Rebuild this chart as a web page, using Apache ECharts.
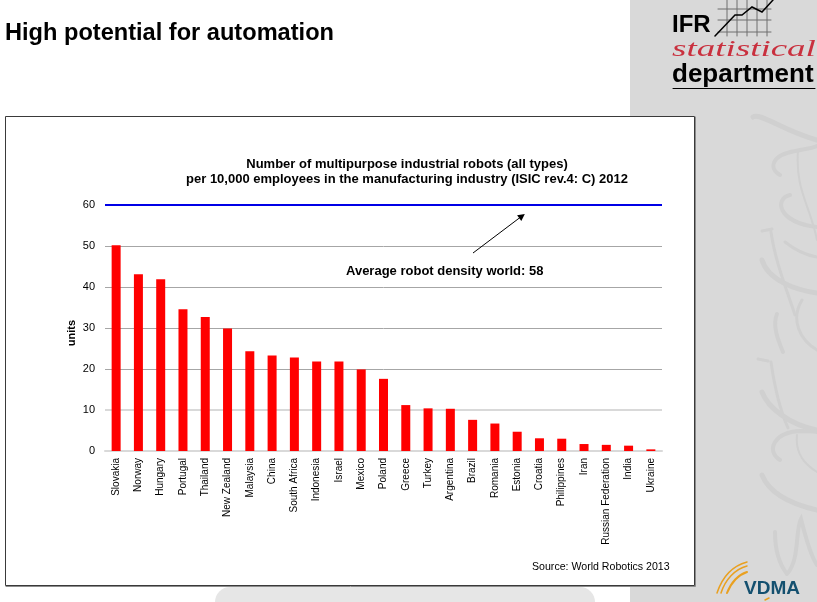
<!DOCTYPE html>
<html>
<head>
<meta charset="utf-8">
<title>High potential for automation</title>
<script src="https://cdn.jsdelivr.net/npm/echarts@6/dist/echarts.min.js"></script>
<style>
html, body { margin: 0; padding: 0; background: #fff; }
#chart { width: 817px; height: 602px; }
</style>
</head>
<body>
<div id="chart"></div>
<script>
var countries = ['Slovakia', 'Norway', 'Hungary', 'Portugal', 'Thailand', 'New Zealand', 'Malaysia', 'China',
    'South Africa', 'Indonesia', 'Israel', 'Mexico', 'Poland', 'Greece', 'Turkey', 'Argentina', 'Brazil',
    'Romania', 'Estonia', 'Croatia', 'Philippines', 'Iran', 'Russian Federation', 'India', 'Ukraine'];
var density = [50.2, 43.1, 41.9, 34.6, 32.7, 29.9, 24.3, 23.3, 22.8, 21.8, 21.8, 19.9, 17.6, 11.2, 10.4, 10.3,
    7.6, 6.7, 4.7, 3.1, 3.0, 1.7, 1.5, 1.3, 0.4];
var worldLine = 60; // blue line sits on the 60 gridline in the picture
var lightGridline = 10; // this gridline is paler and thicker than the others

var pageTitle = 'High potential for automation';
var chartTitle = 'Number of multipurpose industrial robots (all types)\nper 10,000 employees in the manufacturing industry (ISIC rev.4: C) 2012';
var noteText = 'Average robot density world: 58';
var sourceText = 'Source: World Robotics 2013';

var font = '"Liberation Sans", Arial, sans-serif';
var scribble = '#d0d0d0';
var pathCount = 0;

// graphic has no plain svg path type, so register each one as its own shape
function stroke(path, color, width) {
    var name = 'deco' + (pathCount++);
    echarts.graphic.registerShape(name, echarts.graphic.extendPath(path, {}));
    return {
        type: name,
        style: { fill: null, stroke: color, lineWidth: width, lineCap: 'round' }
    };
}

function label(x, y, text, size, weight, color) {
    return {
        type: 'text',
        x: x,
        y: y,
        style: {
            text: text,
            fill: color,
            font: weight + ' ' + size + 'px ' + font,
            verticalAlign: 'middle'
        }
    };
}

// side panel, slide frame, logos
var backdrop = [
    { type: 'rect', shape: { x: 630, y: 0, width: 187, height: 602 }, style: { fill: '#d9d9d9' } },
    { type: 'rect', shape: { x: 215, y: 587, width: 380, height: 30, r: 16 }, style: { fill: '#e6e6e6' } },

    stroke('M753 117 C760 112 785 132 817 140', scribble, 5),
    stroke('M780 175 C768 168 772 155 795 151 C805 149 812 148 817 146', scribble, 4),
    stroke('M790 195 C775 198 776 222 817 227', scribble, 4),
    stroke('M762 231 L772 229 M771 232 C775 260 785 285 795 315', scribble, 3),
    stroke('M762 260 C768 280 795 290 817 293', scribble, 5),
    stroke('M785 242 C795 250 805 255 817 257', scribble, 3),
    stroke('M798 150 C795 190 810 205 817 240', scribble, 2),
    stroke('M777 314 C772 325 778 340 783 352', scribble, 4),
    stroke('M802 300 C790 320 800 340 817 350', scribble, 3),
    stroke('M758 359 L768 361 M771 362 C775 390 780 410 788 428', scribble, 3),
    stroke('M762 392 C768 408 790 425 817 430', scribble, 5),
    stroke('M780 460 C765 450 775 432 800 431 C806 431 812 431 817 432', scribble, 4),
    stroke('M797 435 C795 455 806 465 817 472', scribble, 2),
    stroke('M762 475 C770 495 795 505 817 510', scribble, 5),
    stroke('M775 532 C775 550 780 565 787 574 M787 574 C800 560 795 530 801 519 C805 535 810 555 817 565', scribble, 4),

    { type: 'rect', shape: { x: 5.5, y: 116.5, width: 689, height: 469 }, style: { fill: '#fff', stroke: '#3a3a3a', lineWidth: 1 } },
    stroke('M695.5 117 L695.5 586.5 L6 586.5', '#8c8c8c', 1),

    label(5, 33, pageTitle, 23.6, 'bold', '#000'),

    stroke('M718 9 L771 9 M718 20 L771 20 M718 32 L771 32 M727 0 L727 36 M737 0 L737 36 M747 0 L747 36 M757 0 L757 36 M767 0 L767 36', '#6e6e6e', 1),
    stroke('M715 36 L735 15 L742 15 L752 7 L762 12 L773 0', '#000', 1.5),
    label(672, 25, 'IFR', 24, 'bold', '#000'),
    {
        type: 'text', x: 672, y: 50, scaleY: 0.65,
        style: { text: 'statistical', fill: '#c9303e', font: 'italic 37px "Liberation Serif", serif', verticalAlign: 'middle' }
    },
    label(672, 75, 'department', 26, 'bold', '#000'),
    stroke('M673 88.5 L815 88.5', '#000', 1),

    stroke('M717 593 C722 578 732 566 747 562', '#e9a020', 1.5),
    stroke('M721 593 C725 580 735 569 747 566', '#e9a020', 1.5),
    stroke('M727 593 C731 583 738 575 747 572', '#e9a020', 2),
    stroke('M765 600 L769 598', '#e9a020', 1.5),
    label(744, 589, 'VDMA', 19, 'bold', '#14506f'),

    label(346, 271, noteText, 13, 'bold', '#000')
];

var chart = echarts.init(document.getElementById('chart'), null, { renderer: 'canvas' });

chart.setOption({
    backgroundColor: '#fff',
    animation: false,
    textStyle: { fontFamily: font },
    title: [{
        text: chartTitle,
        left: 402,
        top: 152,
        textAlign: 'center',
        textStyle: { fontFamily: font, fontSize: 13, fontWeight: 'bold', color: '#000', lineHeight: 15 }
    }, {
        text: sourceText,
        left: 527,
        top: 557,
        textStyle: { fontFamily: font, fontSize: 10.6, fontWeight: 'normal', color: '#000' }
    }],
    graphic: {
        z: -1,
        elements: backdrop
    },
    grid: { left: 105, right: 155, top: 205, bottom: 151, containLabel: false },
    xAxis: {
        type: 'category',
        data: countries,
        axisLine: { lineStyle: { color: '#d9d9d9', width: 2 } },
        axisTick: { show: false },
        axisLabel: { rotate: 90, interval: 0, margin: 7, fontSize: 10, color: '#000', fontFamily: font }
    },
    yAxis: {
        type: 'value',
        min: 0,
        max: 60,
        interval: 10,
        name: 'units',
        nameLocation: 'middle',
        nameGap: 28,
        nameMoveOverlap: false,
        nameTextStyle: { fontFamily: font, fontSize: 11, fontWeight: 'bold', color: '#000', padding: [0, 10, 0, 0] },
        axisLine: { show: false },
        axisTick: { show: false },
        axisLabel: { margin: 10, fontSize: 11, color: '#000', fontFamily: font },
        splitLine: { lineStyle: { color: ['#d9d9d9', '#d9d9d9', '#a6a6a6', '#a6a6a6', '#a6a6a6', '#a6a6a6', '#a6a6a6'], width: 1 } }
    },
    series: [{
        type: 'bar',
        data: density,
        barWidth: 9,
        itemStyle: { color: '#ff0000' },
        markLine: {
            silent: true,
            symbol: 'none',
            label: { show: false },
            lineStyle: { color: '#0000e6', width: 2, type: 'solid' },
            data: [
                { yAxis: worldLine },
                [
                    { x: 473, y: 253, symbol: 'none', lineStyle: { color: '#000', width: 1, type: 'solid' } },
                    { x: 522, y: 216, symbol: 'triangle', symbolSize: 7 }
                ]
            ]
        }
    }, {
        // no points of its own, only holds the paler gridline behind the bars
        type: 'line',
        data: [],
        markLine: {
            z: 1,
            silent: true,
            symbol: 'none',
            label: { show: false },
            lineStyle: { color: '#d9d9d9', width: 2, type: 'solid' },
            data: [{ yAxis: lightGridline }]
        }
    }]
});
</script>
</body>
</html>
